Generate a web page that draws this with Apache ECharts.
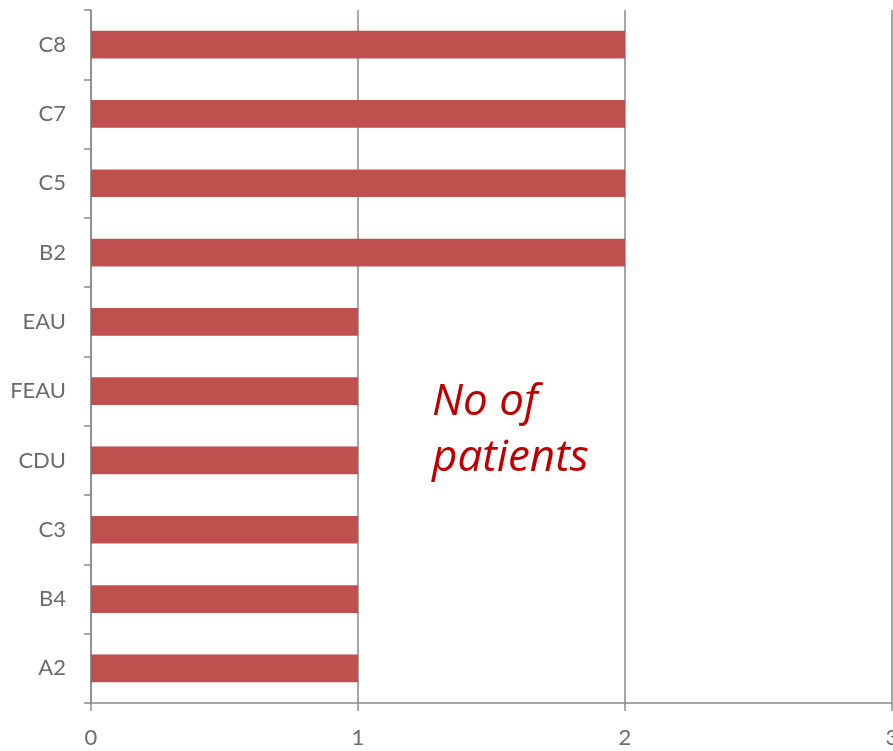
<!DOCTYPE html>
<html>
<head>
<meta charset="utf-8">
<script src="https://cdn.jsdelivr.net/npm/echarts@6/dist/echarts.min.js"></script>
<style>
  html, body { margin: 0; padding: 0; background: #fff; }
  #chart { width: 893px; height: 751px; }
</style>
</head>
<body>
<div id="chart"></div>
<script>
// Units, listed bottom to top
const categories = ['A2', 'B4', 'C3', 'CDU', 'FEAU', 'EAU', 'B2', 'C5', 'C7', 'C8'];
const patients = [1, 1, 1, 1, 1, 1, 2, 2, 2, 2];
const xTicks = [0, 1, 2, 3];
const noteText = 'No of\npatients';

const chart = echarts.init(document.getElementById('chart'));
const axisGray = '#8a8a8a';
const labelGray = '#6b6b6b';
const font = 'Lato, "Open Sans", sans-serif';

chart.setOption({
  animation: false,
  grid: { left: 91, right: 1, top: 10, bottom: 48, containLabel: false, outerBoundsMode: 'none' },
  xAxis: {
    type: 'value',
    min: xTicks[0],
    max: xTicks[xTicks.length - 1],
    interval: 1,
    axisLine: { show: true, lineStyle: { color: axisGray, width: 1.5 } },
    axisTick: { show: true, length: 8, lineStyle: { color: axisGray, width: 1.5 } },
    splitLine: { show: true, lineStyle: { color: axisGray, width: 1.5 } },
    axisLabel: { color: labelGray, fontSize: 22, fontFamily: font, margin: 24, hideOverlap: false }
  },
  yAxis: {
    type: 'category',
    data: categories,
    boundaryGap: true,
    axisLine: { show: true, lineStyle: { color: axisGray, width: 1.5 } },
    axisTick: { show: true, length: 7, alignWithLabel: false, lineStyle: { color: axisGray, width: 1.5 } },
    axisLabel: { color: labelGray, fontSize: 22, fontFamily: font, margin: 25 }
  },
  series: [{
    type: 'bar',
    data: patients,
    barWidth: '40%',
    itemStyle: { color: '#C0504D' }
  }],
  graphic: [{
    type: 'text',
    left: 432,
    top: 374,
    style: {
      text: noteText,
      fill: '#C00000',
      font: 'italic 44px "Open Sans", sans-serif',
      lineHeight: 56
    }
  }]
});
</script>
</body>
</html>
